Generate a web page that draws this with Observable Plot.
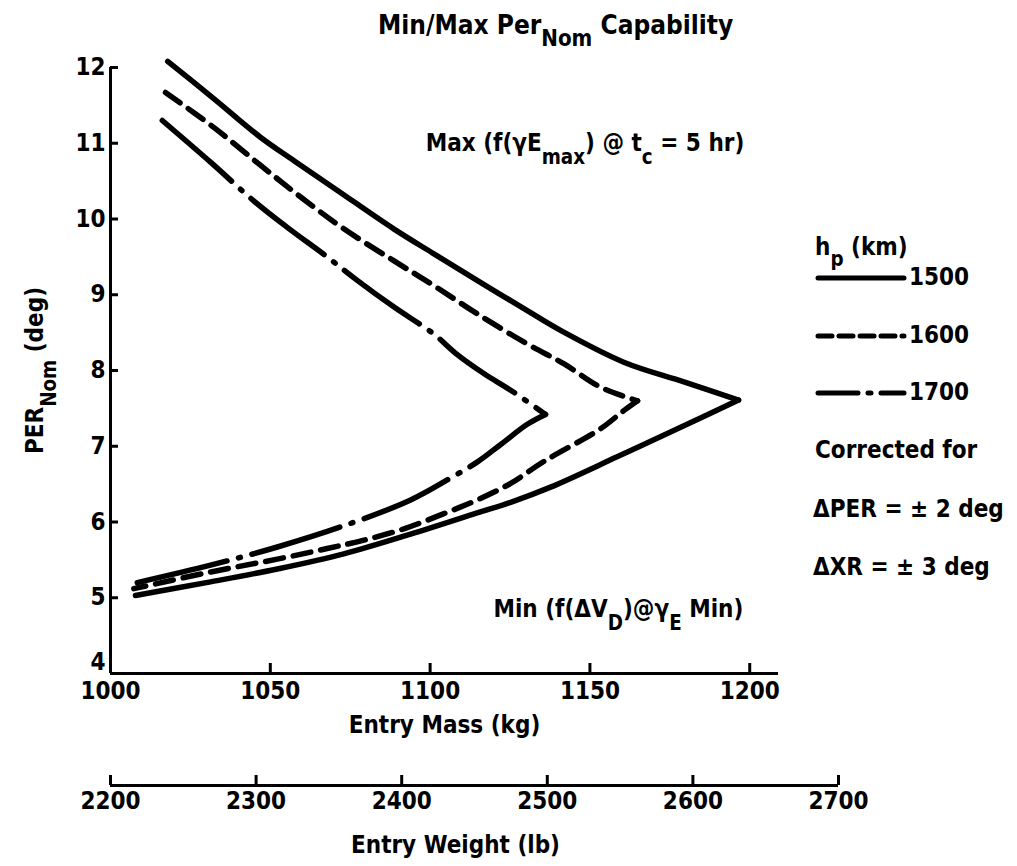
<!DOCTYPE html>
<html><head><meta charset="utf-8">
<script src="https://cdn.jsdelivr.net/npm/d3@7"></script>
<script src="https://cdn.jsdelivr.net/npm/@observablehq/plot@0.6"></script>
<style>
body{margin:0;background:#fff;}
#wrap{position:relative;width:1017px;height:866px;overflow:hidden;font-family:"Liberation Sans Narrow","DejaVu Sans Condensed","Arial Narrow",sans-serif;font-weight:bold;color:#000;}
.abs{position:absolute;white-space:nowrap;line-height:1;font-size:24px;}
.abs sub{font-size:0.85em;vertical-align:-0.55em;line-height:0;}
svg{position:absolute;}
</style></head><body><div id="wrap"></div>
<script>
// ---- data ----
const massTicks = [1000, 1050, 1100, 1150, 1200];
const perTicks = [4, 5, 6, 7, 8, 9, 10, 11, 12];
const weightTicks = [2200, 2300, 2400, 2500, 2600, 2700];
const altitudes = ["1500", "1600", "1700"];

// h_p = 1500 km (solid): upper branch -> tip -> lower branch
const mass1500 = [1017.9,1032.3,1046.9,1057.4,1070.9,1088.6,1101.2,1114.7,1130.4,1140.8,1160.6,1179.4,1196.5,1179.4,1158.5,1137.7,1125.2,1114.7,1093.9,1073.0,1052.2,1031.3,1007.8];
const per1500  = [12.08,11.59,11.08,10.77,10.38,9.87,9.54,9.19,8.79,8.53,8.11,7.85,7.61,7.27,6.86,6.46,6.26,6.12,5.84,5.58,5.38,5.21,5.03];

// h_p = 1600 km (dashed)
const mass1600 = [1017.2,1032.3,1046.9,1059.5,1073.0,1088.6,1101.2,1114.7,1130.4,1141.8,1153.3,1164.9,1160.6,1153.3,1135.6,1125.2,1114.7,1104.3,1091.8,1079.3,1067.8,1052.2,1031.3,1007.3];
const per1600  = [11.67,11.21,10.71,10.29,9.87,9.45,9.12,8.75,8.35,8.09,7.78,7.60,7.47,7.23,6.80,6.51,6.29,6.11,5.91,5.76,5.65,5.51,5.34,5.12];

// h_p = 1700 km (dash-dot)
const mass1700 = [1016.2,1031.3,1044.8,1055.3,1067.8,1077.2,1088.6,1101.2,1107.9,1116.8,1125.2,1136.1,1130.4,1122.0,1114.7,1106.4,1093.9,1073.0,1052.2,1031.3,1006.3];
const per1700  = [11.30,10.75,10.24,9.89,9.50,9.19,8.84,8.48,8.23,7.96,7.74,7.42,7.29,7.02,6.79,6.58,6.29,5.95,5.67,5.43,5.18];

// index of the tip (maximum mass) point in each series
const tipIndex = [12, 11, 11];

const annotText = ["Max (f(\u03B3E_{max}) @ t_{c} = 5 hr)", "Min (f(\u0394V_{D})@\u03B3_{E} Min)"];
const annotMass = [1098.6, 1119.8];
const annotPer  = [11.0, 4.85];

const dashStyles = ["none", "18,10", "92,12,2,12"];

// ---- build ----
const FONT = '"Liberation Sans Narrow","DejaVu Sans Condensed","Arial Narrow",sans-serif';
const series = [[mass1500, per1500], [mass1600, per1600], [mass1700, per1700]];
const curveRows = series.map(([ms, ps], i) => {
  const rows = [];
  ms.forEach((m, j) => {
    if (j <= tipIndex[i]) rows.push({h: altitudes[i], b: "upper", m, p: ps[j]});
  });
  ms.forEach((m, j) => {
    if (j >= tipIndex[i]) rows.push({h: altitudes[i], b: "lower", m, p: ps[j]});
  });
  return rows;
});

function subify(root, fs) {
  const shift = Math.round(fs * 0.55);
  d3.select(root).selectAll("text").each(function () {
    const t = this.textContent;
    if (!t.includes("_{")) return;
    const parts = t.split(/(_\{[^}]*\})/).filter(s => s.length);
    const sel = d3.select(this);
    sel.text(null);
    let pending = 0;
    parts.forEach(p => {
      if (p.startsWith("_{")) {
        sel.append("tspan").attr("dy", shift).attr("font-size", fs * 0.85).text(p.slice(2, -1));
        pending = shift;
      } else {
        const ts = sel.append("tspan").text(p);
        if (pending) { ts.attr("dy", -pending); pending = 0; }
      }
    });
  });
}

const wrap = document.getElementById("wrap");
const lastPer = perTicks[perTicks.length - 1];

const main = Plot.plot({
  width: 800, height: 745,
  marginTop: 67, marginLeft: 110, marginRight: 22, marginBottom: 72,
  style: {fontFamily: FONT, fontWeight: "bold", fontSize: "24px", color: "#000", background: "transparent", overflow: "visible"},
  x: {domain: [massTicks[0], 1209]},
  y: {domain: [perTicks[0], lastPer]},
  marks: [
    Plot.ruleX([massTicks[0]], {stroke: "#000", strokeWidth: 3}),
    Plot.ruleY([perTicks[0]], {stroke: "#000", strokeWidth: 3}),
    Plot.axisX(massTicks, {tickSize: -10, tickPadding: 18, strokeWidth: 3, label: null, tickFormat: d => String(d), fontSize: 24}),
    Plot.axisY(perTicks.slice(1), {tickSize: -8, tickPadding: 13, strokeWidth: 3, label: null, tickFormat: d => String(d), fontSize: 24}),
    Plot.axisY(perTicks.slice(0, 1), {tickSize: 0, tickPadding: 5, dy: -11, label: null, tickFormat: d => String(d), fontSize: 24}),
    ...curveRows.map((rows, i) => Plot.line(rows, {
      x: "m", y: "p", z: "b", stroke: "#000", strokeWidth: 5.5, curve: "catmull-rom",
      strokeDasharray: dashStyles[i] === "none" ? null : dashStyles[i], strokeLinecap: "round", strokeLinejoin: "round"
    })),
    Plot.text(annotText, {x: (d, i) => annotMass[i], y: (d, i) => annotPer[i], text: d => d, textAnchor: "start", lineAnchor: "middle", fontSize: 24, fontWeight: "bold"}),
    Plot.text(["Entry Mass (kg)"], {frameAnchor: "bottom", dy: 52, text: d => d, textAnchor: "middle", lineAnchor: "middle", fontSize: 24, fontWeight: "bold"}),
    Plot.text(["PER_{Nom} (deg)"], {frameAnchor: "left", dx: -75, rotate: -90, text: d => d, textAnchor: "middle", lineAnchor: "middle", fontSize: 24, fontWeight: "bold"})
  ]
});
main.style.left = "0px"; main.style.top = "0px";
subify(main, 24);
wrap.appendChild(main);

const lb = Plot.plot({
  width: 900, height: 96,
  marginTop: 5, marginBottom: 81, marginLeft: 110, marginRight: 62,
  style: {fontFamily: FONT, fontWeight: "bold", fontSize: "24px", color: "#000", background: "transparent", overflow: "visible"},
  x: {domain: [weightTicks[0], weightTicks[weightTicks.length - 1]], axis: null},
  y: {domain: [0, 1], axis: null},
  marks: [
    Plot.tickX(weightTicks, {x: d => d, stroke: "#000", strokeWidth: 3}),
    Plot.ruleY([0], {stroke: "#000", strokeWidth: 3}),
    Plot.axisX(weightTicks, {tickSize: 0, tickPadding: 6, label: null, tickFormat: d => String(d), fontSize: 24}),
    Plot.text(["Entry Weight (lb)"], {frameAnchor: "bottom", dy: 60, dx: -19, text: d => d, textAnchor: "middle", lineAnchor: "middle", fontSize: 24, fontWeight: "bold"})
  ]
});
lb.style.left = "0px"; lb.style.top = "770px";
wrap.appendChild(lb);

// title
const title = document.createElement("div");
title.className = "abs";
title.style.cssText = "left:378px;top:12px;font-size:26px;";
title.innerHTML = "Min/Max Per<sub>Nom</sub> Capability";
wrap.appendChild(title);

// legend
function addDiv(html, left, top) {
  const d = document.createElement("div");
  d.className = "abs";
  d.style.left = left + "px"; d.style.top = top + "px";
  d.innerHTML = html;
  wrap.appendChild(d);
  return d;
}
addDiv("h<sub>p</sub> (km)", 815, 235);
const legTops = [265, 323, 380];
altitudes.forEach((a, i) => {
  const dash = dashStyles[i] === "none" ? "" : `stroke-dasharray="${dashStyles[i] === "18,10" ? "14,7" : "40,10,3,10"}"`;
  addDiv(`<svg width="92" height="12" style="position:relative;vertical-align:middle;margin-right:2px"><line x1="3" y1="6" x2="89" y2="6" stroke="#000" stroke-width="5" stroke-linecap="round" ${dash}/></svg>${a}`, 815, legTops[i]);
});
addDiv("Corrected for", 815, 438);
addDiv("\u0394PER = \u00B1 2 deg", 813, 497);
addDiv("\u0394XR = \u00B1 3 deg", 813, 555);
</script></body></html>
